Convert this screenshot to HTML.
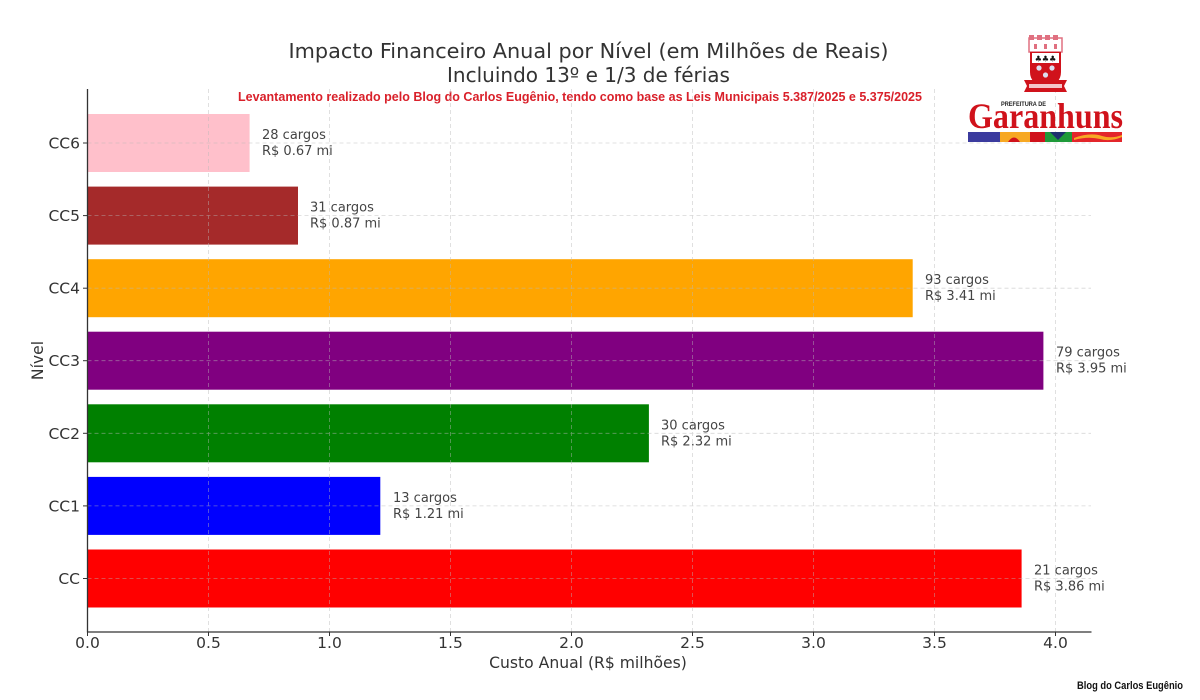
<!DOCTYPE html>
<html>
<head>
<meta charset="utf-8">
<style>
html,body{margin:0;padding:0;background:#fff;}
svg{display:block;}
text{font-family:"DejaVu Sans","Liberation Sans",sans-serif;}
</style>
</head>
<body>
<svg width="1200" height="700" viewBox="0 0 1200 700" xmlns="http://www.w3.org/2000/svg">
<rect width="1200" height="700" fill="#fff"/>

<!-- Title -->
<text x="588.5" y="58" font-size="20" fill="#333" text-anchor="middle" textLength="600" lengthAdjust="spacingAndGlyphs">Impacto Financeiro Anual por Nível (em Milhões de Reais)</text>
<text x="588.5" y="82" font-size="20" fill="#333" text-anchor="middle">Incluindo 13º e 1/3 de férias</text>
<text x="580" y="101" font-size="13" font-weight="bold" fill="#d9202a" text-anchor="middle" textLength="684" lengthAdjust="spacingAndGlyphs" style="font-family:'Liberation Sans Narrow','Liberation Sans',sans-serif">Levantamento realizado pelo Blog do Carlos Eugênio, tendo como base as Leis Municipais 5.387/2025 e 5.375/2025</text>

<!-- Bars -->
<rect x="87.5" y="114" width="162.1" height="58" fill="#FFC0CB"/>
<rect x="87.5" y="186.6" width="210.5" height="58" fill="#A52A2A"/>
<rect x="87.5" y="259.2" width="825.2" height="58" fill="#FFA500"/>
<rect x="87.5" y="331.7" width="955.9" height="58" fill="#800080"/>
<rect x="87.5" y="404.3" width="561.4" height="58" fill="#008000"/>
<rect x="87.5" y="476.9" width="292.8" height="58" fill="#0000FF"/>
<rect x="87.5" y="549.5" width="934.1" height="58" fill="#FF0000"/>

<!-- Grid -->
<g stroke="#b8b8b8" stroke-width="0.8" stroke-dasharray="4,3" opacity="0.55">
<line x1="208.5" y1="89" x2="208.5" y2="632"/>
<line x1="329.5" y1="89" x2="329.5" y2="632"/>
<line x1="450.5" y1="89" x2="450.5" y2="632"/>
<line x1="571.5" y1="89" x2="571.5" y2="632"/>
<line x1="692.5" y1="89" x2="692.5" y2="632"/>
<line x1="813.5" y1="89" x2="813.5" y2="632"/>
<line x1="934.5" y1="89" x2="934.5" y2="632"/>
<line x1="1055.5" y1="89" x2="1055.5" y2="632"/>
<line x1="87.5" y1="143" x2="1091" y2="143"/>
<line x1="87.5" y1="215.6" x2="1091" y2="215.6"/>
<line x1="87.5" y1="288.2" x2="1091" y2="288.2"/>
<line x1="87.5" y1="360.7" x2="1091" y2="360.7"/>
<line x1="87.5" y1="433.3" x2="1091" y2="433.3"/>
<line x1="87.5" y1="505.9" x2="1091" y2="505.9"/>
<line x1="87.5" y1="578.5" x2="1091" y2="578.5"/>
</g>

<!-- Spines -->
<line x1="87.5" y1="89" x2="87.5" y2="632.5" stroke="#333" stroke-width="1.3"/>
<line x1="87" y1="632" x2="1091.5" y2="632" stroke="#333" stroke-width="1.3"/>

<!-- Ticks -->
<g stroke="#333" stroke-width="1">
<line x1="83" y1="143" x2="87" y2="143"/>
<line x1="83" y1="215.6" x2="87" y2="215.6"/>
<line x1="83" y1="288.2" x2="87" y2="288.2"/>
<line x1="83" y1="360.7" x2="87" y2="360.7"/>
<line x1="83" y1="433.3" x2="87" y2="433.3"/>
<line x1="83" y1="505.9" x2="87" y2="505.9"/>
<line x1="83" y1="578.5" x2="87" y2="578.5"/>
<line x1="87.5" y1="632" x2="87.5" y2="636"/>
<line x1="208.5" y1="632" x2="208.5" y2="636"/>
<line x1="329.5" y1="632" x2="329.5" y2="636"/>
<line x1="450.5" y1="632" x2="450.5" y2="636"/>
<line x1="571.5" y1="632" x2="571.5" y2="636"/>
<line x1="692.5" y1="632" x2="692.5" y2="636"/>
<line x1="813.5" y1="632" x2="813.5" y2="636"/>
<line x1="934.5" y1="632" x2="934.5" y2="636"/>
<line x1="1055.5" y1="632" x2="1055.5" y2="636"/>
</g>

<!-- Y tick labels -->
<g font-size="15.5" fill="#333" text-anchor="end">
<text x="80" y="148.5">CC6</text>
<text x="80" y="221">CC5</text>
<text x="80" y="293.7">CC4</text>
<text x="80" y="366.2">CC3</text>
<text x="80" y="438.8">CC2</text>
<text x="80" y="511.4">CC1</text>
<text x="80" y="584">CC</text>
</g>

<!-- X tick labels -->
<g font-size="15.5" fill="#333" text-anchor="middle">
<text x="87.5" y="648">0.0</text>
<text x="208.5" y="648">0.5</text>
<text x="329.5" y="648">1.0</text>
<text x="450.5" y="648">1.5</text>
<text x="571.5" y="648">2.0</text>
<text x="692.5" y="648">2.5</text>
<text x="813.5" y="648">3.0</text>
<text x="934.5" y="648">3.5</text>
<text x="1055.5" y="648">4.0</text>
</g>

<!-- Axis labels -->
<text x="588" y="668" font-size="15.6" fill="#333" text-anchor="middle">Custo Anual (R$ milhões)</text>
<text transform="translate(43,360.5) rotate(-90)" font-size="15.6" fill="#333" text-anchor="middle">Nível</text>

<!-- Bar value labels -->
<g font-size="13" fill="#444">
<text x="262" y="139">28 cargos</text><text x="262" y="155">R$ 0.67 mi</text>
<text x="310" y="211.6">31 cargos</text><text x="310" y="227.6">R$ 0.87 mi</text>
<text x="925" y="284.2">93 cargos</text><text x="925" y="300.2">R$ 3.41 mi</text>
<text x="1056" y="356.7">79 cargos</text><text x="1056" y="372.7">R$ 3.95 mi</text>
<text x="661" y="429.3">30 cargos</text><text x="661" y="445.3">R$ 2.32 mi</text>
<text x="393" y="501.9">13 cargos</text><text x="393" y="517.9">R$ 1.21 mi</text>
<text x="1034" y="574.5">21 cargos</text><text x="1034" y="590.5">R$ 3.86 mi</text>
</g>

<!-- Logo -->
<g>
  <rect x="1029" y="38" width="33" height="14" fill="#fff" stroke="#e07080" stroke-width="1.5"/>
  <rect x="1029" y="35" width="5" height="5" fill="#e07080"/>
  <rect x="1037" y="35" width="5" height="5" fill="#e07080"/>
  <rect x="1045" y="35" width="5" height="5" fill="#e07080"/>
  <rect x="1053" y="35" width="5" height="5" fill="#e07080"/>
  <rect x="1034" y="44" width="3" height="5" fill="#e07080"/>
  <rect x="1044" y="44" width="3" height="5" fill="#e07080"/>
  <rect x="1054" y="44" width="3" height="5" fill="#e07080"/>
  <path d="M1030 52 H1061 V72 Q1061 84 1045.5 88 Q1030 84 1030 72 Z" fill="#d0121b"/>
  <rect x="1032" y="53" width="27" height="10" fill="#fff"/>
  <text x="1045.5" y="61.5" font-size="8" fill="#111" text-anchor="middle">♣♣♣</text>
  <circle cx="1039" cy="68" r="2.6" fill="#dde"/>
  <circle cx="1052" cy="68" r="2.6" fill="#dde"/>
  <circle cx="1045.5" cy="75" r="2.6" fill="#dde"/>
  <path d="M1024 80 H1067 L1064 86 L1067 92 H1024 L1027 86 Z" fill="#d0121b"/>
  <rect x="1029" y="84" width="33" height="4" fill="#f4c4c8"/>
  <text x="1001" y="106" font-size="6" font-weight="bold" fill="#222" textLength="45" lengthAdjust="spacingAndGlyphs" style="font-family:'Liberation Sans',sans-serif">PREFEITURA DE</text>
  <text x="968" y="128" font-size="36" font-weight="bold" fill="#d0121b" textLength="155" lengthAdjust="spacingAndGlyphs" style="font-family:'Liberation Serif',serif">Garanhuns</text>
  <rect x="968" y="132" width="32" height="10" fill="#3b3b9e"/>
  <rect x="1000" y="132" width="30" height="10" fill="#f7a823"/>
  <path d="M1008 142 Q1014 133 1020 142 Z" fill="#d0121b"/>
  <rect x="1030" y="132" width="15" height="10" fill="#d0121b"/>
  <rect x="1045" y="132" width="27" height="10" fill="#1f9a3a"/>
  <path d="M1050 132 L1058 140 L1066 132 Z" fill="#1e2f6e"/>
  <rect x="1072" y="132" width="50" height="10" fill="#e3262b"/>
  <path d="M1074 138 Q1090 132 1102 136 Q1112 139 1122 135 V137 Q1110 142 1100 139 Q1088 136 1074 140 Z" fill="#f7a823"/>
</g>

<!-- footer -->
<text x="1077" y="689" font-size="11" font-weight="bold" fill="#111" textLength="106" lengthAdjust="spacingAndGlyphs" style="font-family:'Liberation Sans Narrow','Liberation Sans',sans-serif">Blog do Carlos Eugênio</text>
</svg>
</body>
</html>
